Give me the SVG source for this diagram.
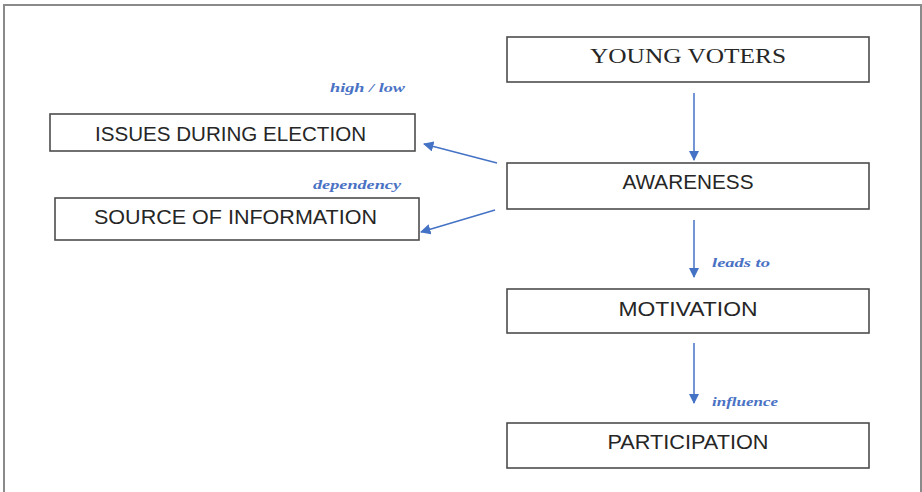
<svg xmlns="http://www.w3.org/2000/svg" width="922" height="492" viewBox="0 0 922 492">
  <style>
    .box { fill: #ffffff; stroke: #4d4d4d; stroke-width: 1.6; }
    .t { font-family: "Liberation Sans", Arial, sans-serif; font-size: 19.5px; fill: #262626; text-anchor: middle; }
    .ts { font-family: "Liberation Serif", "Times New Roman", serif; font-size: 20px; fill: #262626; text-anchor: middle; }
    .lbl { font-family: "Liberation Serif", "Times New Roman", serif; font-style: italic; font-weight: bold; font-size: 13px; fill: #4a72c4; }
    .conn { stroke: #4472c4; stroke-width: 1.5; fill: none; marker-end: url(#ah); }
  </style>
  <defs>
    <marker id="ah" viewBox="0 0 10 10" refX="9" refY="5" markerWidth="7" markerHeight="7" markerUnits="strokeWidth" orient="auto">
      <path d="M0,0 L10,5 L0,10 z" fill="#4472c4"/>
    </marker>
  </defs>
  <rect x="0" y="0" width="922" height="492" fill="#ffffff"/>
  <rect x="4" y="5" width="917" height="500" fill="none" stroke="#8a8a8a" stroke-width="2"/>

  <g id="young-voters">
    <rect class="box" x="507" y="37" width="362" height="45"/>
    <text class="ts" x="688" y="63" textLength="196" lengthAdjust="spacingAndGlyphs">YOUNG VOTERS</text>
  </g>
  <g id="awareness">
    <rect class="box" x="507" y="163" width="362" height="46"/>
    <text class="t" x="688" y="189" textLength="131" lengthAdjust="spacingAndGlyphs">AWARENESS</text>
  </g>
  <g id="motivation">
    <rect class="box" x="507" y="289" width="362" height="44"/>
    <text class="t" x="688" y="316" textLength="139" lengthAdjust="spacingAndGlyphs">MOTIVATION</text>
  </g>
  <g id="participation">
    <rect class="box" x="507" y="423" width="362" height="45"/>
    <text class="t" x="688" y="449" textLength="161" lengthAdjust="spacingAndGlyphs">PARTICIPATION</text>
  </g>
  <g id="issues">
    <rect class="box" x="50" y="114" width="365" height="37"/>
    <text class="t" x="230.5" y="141" textLength="271" lengthAdjust="spacingAndGlyphs">ISSUES DURING ELECTION</text>
  </g>
  <g id="source">
    <rect class="box" x="55" y="198" width="364" height="42"/>
    <text class="t" x="235.5" y="224" textLength="283" lengthAdjust="spacingAndGlyphs">SOURCE OF INFORMATION</text>
  </g>

  <g id="connectors">
    <line class="conn" x1="694" y1="93" x2="694" y2="160"/>
    <line class="conn" x1="694" y1="220" x2="694" y2="277"/>
    <line class="conn" x1="694" y1="343" x2="694" y2="403"/>
    <line class="conn" x1="497" y1="163" x2="424" y2="144"/>
    <line class="conn" x1="495" y1="210" x2="421" y2="232"/>
    <text class="lbl" x="330" y="92" textLength="75" lengthAdjust="spacingAndGlyphs">high / low</text>
    <text class="lbl" x="313" y="189" textLength="88" lengthAdjust="spacingAndGlyphs">dependency</text>
    <text class="lbl" x="712" y="267" textLength="58" lengthAdjust="spacingAndGlyphs">leads to</text>
    <text class="lbl" x="712" y="406" textLength="66" lengthAdjust="spacingAndGlyphs">influence</text>
  </g>
</svg>
